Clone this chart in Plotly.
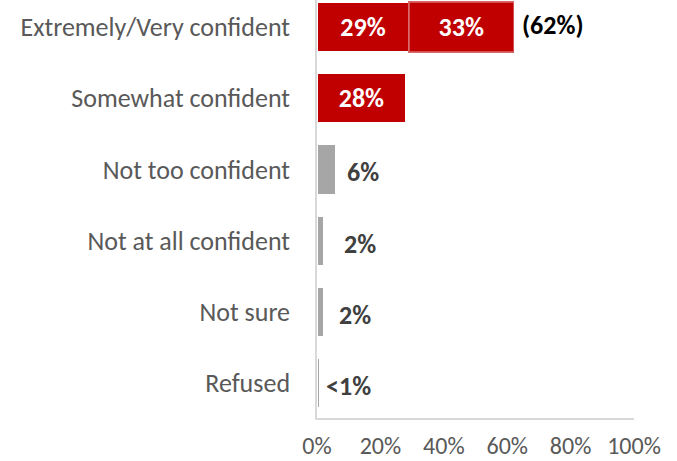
import plotly.graph_objects as go

# Survey responses: confidence level
categories = ["Extremely/Very confident", "Somewhat confident", "Not too confident",
              "Not at all confident", "Not sure", "Refused"]
# first segment of each bar (Extremely/Very row: "Extremely" share)
base_values = [29, 28, 6, 2, 2, 0.8]
base_labels = ["29%", "28%", "6%", "2%", "2%", "<1%"]
# second segment, only on the top row ("Very" share)
extra_values = [33, None, None, None, None, None]
extra_labels = ["33%", "", "", "", "", ""]
total_label = "(62%)"
total_value = 62

x_ticks = [0, 20, 40, 60, 80, 100]
x_tick_text = ["0%", "20%", "40%", "60%", "80%", "100%"]

RED = "#c00000"
GREY_BAR = "#a6a6a6"
TEXT_GREY = "#595959"
LABEL_DARK = "#404040"
FONT = "Carlito, Calibri, Lato, sans-serif"

base_colors = [RED, RED, GREY_BAR, GREY_BAR, GREY_BAR, GREY_BAR]
inside_text = [t if c == RED else "" for t, c in zip(base_labels, base_colors)]

fig = go.Figure()
fig.add_trace(go.Bar(
    y=categories, x=base_values, orientation="h",
    marker=dict(color=base_colors, line=dict(color="white", width=1.5)),
    width=0.7,
    text=inside_text, textposition="inside", insidetextanchor="middle",
    textangle=0, constraintext="none",
    textfont=dict(family=FONT, size=26, color="white", weight="bold"),
    hoverinfo="skip",
))
fig.add_trace(go.Bar(
    y=categories, x=extra_values, orientation="h",
    marker=dict(color=RED, line=dict(color="rgba(214,90,90,0.9)", width=1.5)),
    width=0.7,
    text=extra_labels, textposition="inside", insidetextanchor="middle",
    textangle=0, constraintext="none",
    textfont=dict(family=FONT, size=26, color="white", weight="bold"),
    hoverinfo="skip",
))

# value labels beside the small grey bars
grey_shift = [0, 0, 9, 19, 14, 4]
for cat, val, lab, col, dx in zip(categories, base_values, base_labels, base_colors, grey_shift):
    if col == RED:
        continue
    fig.add_annotation(x=val, y=cat, text=f"<b>{lab}</b>", showarrow=False,
                       xanchor="left", xshift=dx, yshift=-3,
                       font=dict(family=FONT, size=26, color=LABEL_DARK))

# combined total for the top row
fig.add_annotation(x=total_value, y=categories[0], text=f"<b>{total_label}</b>",
                   showarrow=False, xanchor="left", xshift=6, yshift=2,
                   font=dict(family=FONT, size=26, color="black"))

fig.update_layout(
    width=677, height=461,
    margin=dict(l=317, r=43, t=0, b=43),
    paper_bgcolor="white", plot_bgcolor="white",
    barmode="stack", showlegend=False,
    font=dict(family=FONT, size=26, color=TEXT_GREY),
)
fig.update_xaxes(
    range=[0, 100], tickvals=x_ticks, ticktext=x_tick_text,
    showgrid=False, zeroline=False, automargin=False,
    showline=True, linecolor="#d9d9d9", linewidth=1.5,
    ticks="", ticklabelstandoff=5,
    tickfont=dict(family=FONT, size=24, color=TEXT_GREY),
)
fig.update_yaxes(
    categoryorder="array", categoryarray=categories,
    range=[5.49, -0.38],
    showgrid=False, zeroline=False, automargin=False,
    showline=True, linecolor="#d9d9d9", linewidth=1.5,
    ticks="", ticklabelstandoff=20,
    tickfont=dict(family=FONT, size=26, color=TEXT_GREY),
)

fig.write_html("out.html")
